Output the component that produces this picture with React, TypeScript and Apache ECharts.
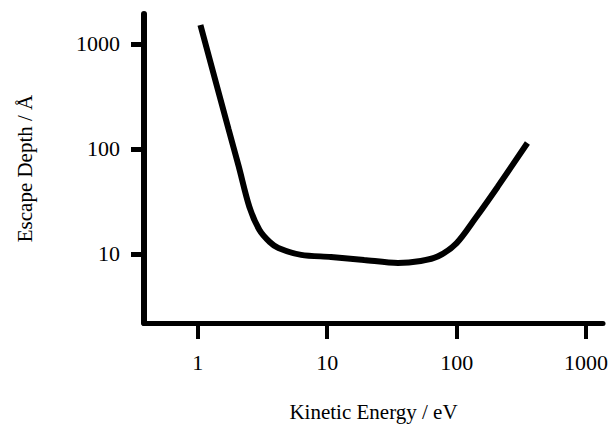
import React, { useEffect, useRef } from "react";
import * as echarts from "echarts";

// Kinetic energy (eV) and escape depth (Å)
const kineticEnergy = [1.05, 1.73, 2.07, 2.51, 3.0, 3.6, 4.2, 6.3, 10.7, 19.3, 35.2, 52.8, 72, 100, 140, 207, 352];
const escapeDepth = [1517, 155, 69, 28, 16.9, 13.0, 11.4, 9.8, 9.37, 8.77, 8.2, 8.58, 9.5, 12.7, 22, 43.5, 114];

const xTicks = [1, 10, 100, 1000];
const yTicks = [10, 100, 1000];
const xRange = [0.385, 1350];
const yRange = [2.2, 1930];

const FONT = "'Liberation Serif', 'DejaVu Serif', Times, serif";

export default function App() {
  const ref = useRef<HTMLDivElement>(null);
  useEffect(() => {
    if (!ref.current) return;
    const chart = echarts.init(ref.current, null, { renderer: "svg" });
    const lg = (v: number) => Math.log10(v);
    const fmt = (v: number) => String(Math.round(Math.pow(10, v)));
    chart.setOption({
      animation: false,
      backgroundColor: "#ffffff",
      grid: { left: 144, right: 10, top: 14, bottom: 106, containLabel: false, outerBoundsMode: "none" },
      xAxis: {
        type: "value",
        min: lg(xRange[0]),
        max: lg(xRange[1]),
        name: "Kinetic Energy / eV",
        nameLocation: "middle",
        nameGap: 78,
        nameTextStyle: { fontFamily: FONT, fontSize: 21, color: "#000" },
        axisLine: { show: true, onZero: false, lineStyle: { color: "#000", width: 5 } },
        axisTick: { show: true, inside: false, length: 16, lineStyle: { color: "#000", width: 4 }, customValues: xTicks.map(lg) },
        axisLabel: { fontFamily: FONT, fontSize: 22, color: "#000", margin: 28, formatter: fmt, customValues: xTicks.map(lg) },
        splitLine: { show: false },
      },
      yAxis: {
        type: "value",
        min: lg(yRange[0]),
        max: lg(yRange[1]),
        name: "Escape Depth / Å",
        nameLocation: "middle",
        nameGap: 109,
        nameTextStyle: { fontFamily: FONT, fontSize: 21, color: "#000" },
        axisLine: { show: true, onZero: false, lineStyle: { color: "#000", width: 6 } },
        axisTick: { show: true, inside: false, length: 13, lineStyle: { color: "#000", width: 5 }, customValues: yTicks.map(lg) },
        axisLabel: { fontFamily: FONT, fontSize: 22, color: "#000", margin: 24, formatter: fmt, customValues: yTicks.map(lg) },
        splitLine: { show: false },
      },
      series: [
        {
          type: "line",
          data: kineticEnergy.map((x, i) => [lg(x), lg(escapeDepth[i])]),
          smooth: 0.3,
          showSymbol: false,
          lineStyle: { color: "#000", width: 6 },
        },
      ],
    });
    return () => chart.dispose();
  }, []);
  return <div ref={ref} style={{ position: "fixed", left: 0, top: 0, width: 613, height: 429 }} />;
}
